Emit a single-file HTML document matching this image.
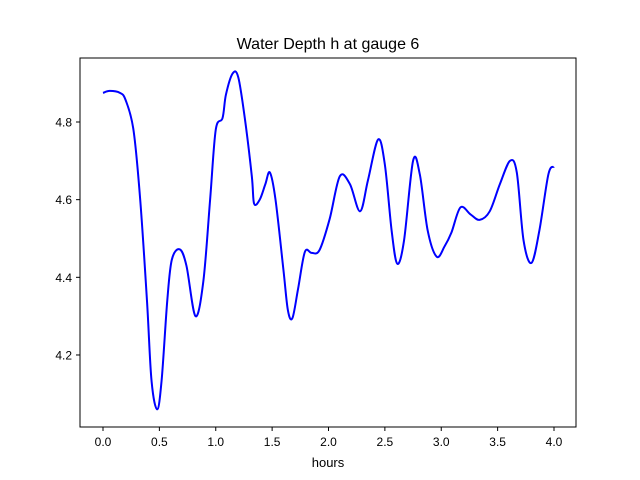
<!DOCTYPE html>
<html><head><meta charset="utf-8"><style>
body{margin:0;background:#fff;}
svg{display:block;font-family:"Liberation Sans","DejaVu Sans",sans-serif;}
</style></head><body>
<svg id="chart" width="640" height="480">
<rect x="0" y="0" width="640" height="480" fill="#fff"/>
<text x="328" y="49" font-size="16" text-anchor="middle">Water Depth h at gauge 6</text>
<g id="axes"></g>
<path id="line" fill="none" stroke="#0000ff" stroke-width="2"/>
<rect x="80" y="58" width="496" height="369" fill="none" stroke="#000" stroke-width="1"/>
<text x="328" y="467" font-size="13" text-anchor="middle">hours</text>
</svg>
<script>
const hours=[0,0.06,0.15,0.2,0.27,0.33,0.39,0.43,0.48,0.52,0.57,0.61,0.68,0.74,0.82,0.89,0.95,1.0,1.06,1.09,1.15,1.2,1.26,1.32,1.34,1.39,1.44,1.48,1.53,1.6,1.64,1.68,1.73,1.79,1.85,1.92,2.01,2.1,2.19,2.28,2.35,2.44,2.5,2.56,2.61,2.67,2.75,2.81,2.88,2.96,3.03,3.09,3.17,3.26,3.34,3.43,3.52,3.61,3.67,3.73,3.8,3.87,3.95,4.0];
const depth=[4.875,4.88,4.875,4.857,4.78,4.6,4.34,4.135,4.06,4.135,4.34,4.445,4.472,4.43,4.3,4.39,4.6,4.78,4.81,4.87,4.925,4.915,4.805,4.66,4.59,4.6,4.64,4.67,4.6,4.42,4.315,4.295,4.37,4.465,4.463,4.47,4.55,4.66,4.64,4.57,4.65,4.755,4.69,4.52,4.435,4.495,4.7,4.665,4.52,4.453,4.48,4.515,4.58,4.562,4.548,4.57,4.64,4.7,4.67,4.495,4.437,4.52,4.665,4.685];
const xTicks=[0,0.5,1,1.5,2,2.5,3,3.5,4];
const xTickLabels=["0.0","0.5","1.0","1.5","2.0","2.5","3.0","3.5","4.0"];
const yTicks=[4.2,4.4,4.6,4.8];
const yTickLabels=["4.2","4.4","4.6","4.8"];
const X=v=>103+v*112.75;
const Y=v=>122-(v-4.8)*388.3;
const NS="http://www.w3.org/2000/svg";
const ax=document.getElementById('axes');
xTicks.forEach((t,i)=>{
  const l=document.createElementNS(NS,'line');
  l.setAttribute('x1',X(t));l.setAttribute('x2',X(t));l.setAttribute('y1',427);l.setAttribute('y2',431);l.setAttribute('stroke','#000');
  
  
  ax.appendChild(l);
  const tx=document.createElementNS(NS,'text');
  tx.setAttribute('x',X(t));tx.setAttribute('y',446);tx.setAttribute('font-size','12');tx.setAttribute('text-anchor','middle');
  tx.textContent=xTickLabels[i];
  
  
  ax.appendChild(tx);
});
yTicks.forEach((t,i)=>{
  const l=document.createElementNS(NS,'line');
  l.setAttribute('x1',76);l.setAttribute('x2',80);l.setAttribute('y1',Y(t));l.setAttribute('y2',Y(t));l.setAttribute('stroke','#000');
  
  
  ax.appendChild(l);
  const tx=document.createElementNS(NS,'text');
  tx.setAttribute('x',72);tx.setAttribute('y',Y(t)+4.5);tx.setAttribute('font-size','12');tx.setAttribute('text-anchor','end');
  tx.textContent=yTickLabels[i];
  
  
  ax.appendChild(tx);
});
const pts=hours.map((h,i)=>[X(h),Y(depth[i])]);
let d='M'+pts[0][0]+','+pts[0][1];
for(let i=0;i<pts.length-1;i++){
  const p0=pts[Math.max(i-1,0)],p1=pts[i],p2=pts[i+1],p3=pts[Math.min(i+2,pts.length-1)];
  const c1=[p1[0]+(p2[0]-p0[0])/6,p1[1]+(p2[1]-p0[1])/6];
  const c2=[p2[0]-(p3[0]-p1[0])/6,p2[1]-(p3[1]-p1[1])/6];
  d+=' C'+c1[0]+','+c1[1]+' '+c2[0]+','+c2[1]+' '+p2[0]+','+p2[1];
}
document.getElementById('line').setAttribute('d',d);
</script>
</body></html>
